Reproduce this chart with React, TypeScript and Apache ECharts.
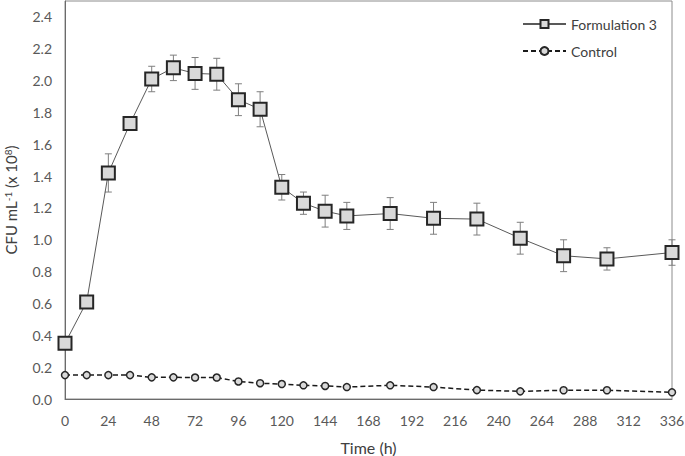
import React, { useEffect, useRef } from "react";
import * as echarts from "echarts";

const timeH = [0, 12, 24, 36, 48, 60, 72, 84, 96, 108, 120, 132, 144, 156, 180, 204, 228, 252, 276, 300, 336];
const formulation3 = [0.35, 0.61, 1.42, 1.73, 2.01, 2.08, 2.045, 2.04, 1.88, 1.82, 1.33, 1.23, 1.18, 1.15, 1.165, 1.135, 1.13, 1.01, 0.9, 0.88, 0.92];
const formulation3Err = [0.02, 0.03, 0.12, 0.03, 0.08, 0.08, 0.1, 0.1, 0.1, 0.11, 0.08, 0.07, 0.1, 0.085, 0.1, 0.1, 0.1, 0.1, 0.1, 0.07, 0.08];
const control = [0.15, 0.15, 0.15, 0.15, 0.136, 0.136, 0.135, 0.135, 0.11, 0.099, 0.094, 0.086, 0.082, 0.075, 0.086, 0.075, 0.056, 0.048, 0.055, 0.055, 0.042];
const seriesNames = ["Formulation 3", "Control"];

const FONT = "Lato, 'Open Sans', sans-serif";

export default function App() {
  const ref = useRef<HTMLDivElement>(null);
  useEffect(() => {
    if (!ref.current) return;
    const chart = echarts.init(ref.current, undefined, { renderer: "svg" });
    const errData = timeH.map((t, i) => [t, formulation3[i] - formulation3Err[i], formulation3[i] + formulation3Err[i]]);
    chart.setOption({
      animation: false,
      textStyle: { fontFamily: FONT },
      grid: {
        left: 65,
        right: 13,
        top: 1,
        bottom: 57,
        show: true,
        outerBoundsMode: "none",
        containLabel: false,
        borderColor: "#8c8c8c",
        borderWidth: 1,
        backgroundColor: "transparent",
      },
      legend: {
        orient: "vertical",
        left: 517,
        top: 12,
        itemWidth: 43,
        itemHeight: 10,
        itemGap: 13,
        data: seriesNames,
        textStyle: { fontSize: 14, color: "#404040", fontFamily: FONT },
      },
      xAxis: {
        type: "value",
        min: 0,
        max: 336,
        interval: 24,
        name: "Time (h)",
        nameLocation: "middle",
        nameGap: 40,
        nameTextStyle: { fontSize: 16, color: "#404040", fontFamily: FONT },
        axisLine: { show: true, lineStyle: { color: "#6b6b6b", width: 1 } },
        axisTick: { show: false },
        splitLine: { show: false },
        axisLabel: { fontSize: 14, color: "#595959", margin: 14, fontFamily: FONT },
      },
      yAxis: {
        type: "value",
        min: 0,
        max: 2.5,
        interval: 0.2,
        name: "CFU mL{sup|-1} (x 10{sup|8})",
        nameLocation: "middle",
        nameGap: 46,
        nameRotate: 90,
        nameTextStyle: {
          fontSize: 15,
          color: "#404040",
          fontFamily: FONT,
          rich: {
            sup: { fontSize: 10, verticalAlign: "top", color: "#404040", fontFamily: FONT, padding: [0, 0, 6, 0] },
          },
        },
        axisLine: { show: true, lineStyle: { color: "#6b6b6b", width: 1 } },
        axisTick: { show: false },
        splitLine: { show: false },
        axisLabel: {
          fontSize: 14,
          color: "#595959",
          margin: 13,
          fontFamily: FONT,
          formatter: (v: number) => (v > 2.45 ? "" : v.toFixed(1)),
        },
      },
      series: [
        {
          type: "custom",
          name: "err",
          z: 1,
          silent: true,
          data: errData,
          encode: { x: 0, y: [1, 2] },
          renderItem: (params: any, api: any) => {
            const x = api.value(0);
            const top = api.coord([x, api.value(2)]);
            const bot = api.coord([x, api.value(1)]);
            const c = 3.5;
            const style = { stroke: "#7f7f7f", lineWidth: 1 };
            return {
              type: "group",
              children: [
                { type: "line", shape: { x1: top[0], y1: top[1], x2: bot[0], y2: bot[1] }, style },
                { type: "line", shape: { x1: top[0] - c, y1: top[1], x2: top[0] + c, y2: top[1] }, style },
                { type: "line", shape: { x1: bot[0] - c, y1: bot[1], x2: bot[0] + c, y2: bot[1] }, style },
              ],
            };
          },
        },
        {
          type: "line",
          name: seriesNames[0],
          z: 3,
          data: timeH.map((t, i) => [t, formulation3[i]]),
          symbol: "rect",
          symbolSize: 13,
          lineStyle: { color: "#595959", width: 1 },
          itemStyle: { color: "#d9d9d9", borderColor: "#262626", borderWidth: 2 },
        },
        {
          type: "line",
          name: seriesNames[1],
          z: 3,
          data: timeH.map((t, i) => [t, control[i]]),
          symbol: "circle",
          symbolSize: 7,
          lineStyle: { color: "#1a1a1a", width: 1.5, type: [5, 3] },
          itemStyle: { color: "#d9d9d9", borderColor: "#262626", borderWidth: 1.5 },
        },
      ],
    });
    return () => chart.dispose();
  }, []);
  return <div ref={ref} style={{ width: 685, height: 456, position: "absolute", left: 0, top: 0 }} />;
}
